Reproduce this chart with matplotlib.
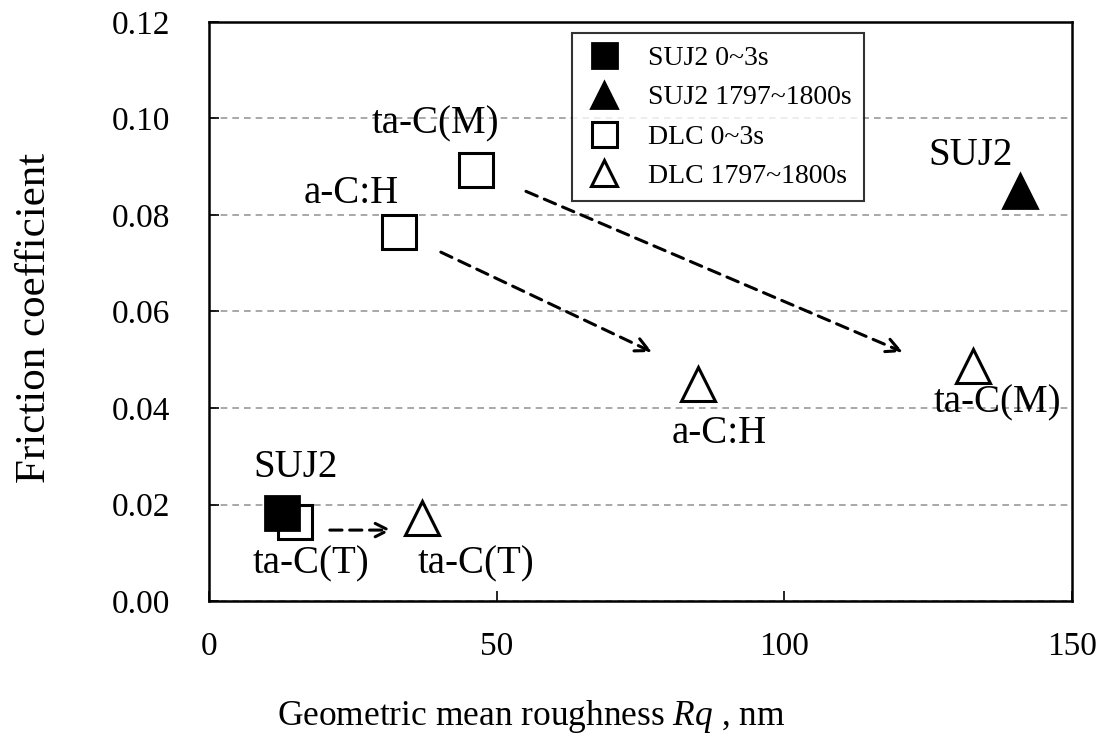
import matplotlib
matplotlib.use('Agg')
import matplotlib.pyplot as plt

plt.rcParams['font.family'] = ['Liberation Serif', 'DejaVu Serif']
plt.rcParams['mathtext.fontset'] = 'custom'
plt.rcParams['mathtext.it'] = 'Liberation Serif:italic'
plt.rcParams['mathtext.rm'] = 'Liberation Serif'

# SUJ2 and DLC, first 3 s and last 3 s
suj2_start_x = [12.7]
suj2_start_y = [0.0182]
suj2_end_x = [141.0]
suj2_end_y = [0.085]
dlc_start_x = [15.0, 33.0, 46.4]
dlc_start_y = [0.0164, 0.0765, 0.0893]
dlc_end_x = [37.0, 85.0, 132.8]
dlc_end_y = [0.0173, 0.045, 0.0487]

# arrows (start -> end)
arrow_from = [(21.0, 0.0147), (40.3, 0.0723), (55.1, 0.0849)]
arrow_to = [(31.8, 0.0147), (77.0, 0.0516), (120.6, 0.0516)]

# point labels
labels = ['SUJ2', 'ta-C(T)', 'ta-C(T)', 'a-C:H', 'ta-C(M)', 'a-C:H', 'ta-C(M)', 'SUJ2']
label_x = [15.1, 17.7, 46.4, 24.7, 39.3, 88.6, 137.0, 132.4]
label_y = [0.0257, 0.0058, 0.0058, 0.0825, 0.0970, 0.0328, 0.0390, 0.0904]

fig = plt.figure(figsize=(11, 7.42), dpi=100)
ax = fig.add_axes([0.19, 0.19, 0.7845, 0.7804])

ms = 24
ax.plot(suj2_start_x, suj2_start_y, 's', ms=ms, color='black', mec='black', mew=2,
        label='SUJ2 0~3s', zorder=4)
ax.plot(suj2_end_x, suj2_end_y, '^', ms=ms + 1, color='black', mec='black', mew=2,
        label='SUJ2 1797~1800s', zorder=4)
ax.plot(dlc_start_x, dlc_start_y, 's', ms=ms, mfc='none', mec='black', mew=2.2,
        label='DLC 0~3s', zorder=3)
ax.plot(dlc_end_x, dlc_end_y, '^', ms=ms + 1, mfc='none', mec='black', mew=2.2,
        label='DLC 1797~1800s', zorder=3)

for (x0, y0), (x1, y1) in zip(arrow_from, arrow_to):
    ax.annotate('', xy=(x1, y1), xytext=(x0, y0),
                arrowprops=dict(arrowstyle='->', linestyle=(0, (4, 2.5)), lw=2.2,
                                color='black', mutation_scale=24,
                                shrinkA=0, shrinkB=0))

for t, x, y in zip(labels, label_x, label_y):
    ax.text(x, y, t, fontsize=28, ha='center', va='baseline')

ax.set_xlim(0, 150)
ax.set_ylim(0, 0.12)
ax.set_xticks([0, 50, 100, 150])
ax.set_yticks([0, 0.02, 0.04, 0.06, 0.08, 0.10, 0.12])
ax.set_yticklabels(['0.00', '0.02', '0.04', '0.06', '0.08', '0.10', '0.12'])
ax.tick_params(direction='in', labelsize=24, length=7, width=1.2)
ax.tick_params(axis='y', pad=28)
ax.tick_params(axis='x', pad=22)
ax.yaxis.grid(True, linestyle=(0, (4, 3)), color='#999999', lw=1.2)
ax.set_axisbelow(True)
for s in ax.spines.values():
    s.set_linewidth(1.8)

ax.set_xlabel('Geometric mean roughness $\\mathit{Rq}$ , nm', fontsize=25.5)
ax.xaxis.label.set_va('baseline')
ax.xaxis.set_label_coords(0.373, -0.214)
ax.set_ylabel('Friction coefficient', fontsize=31)
ax.yaxis.label.set_va('baseline')
ax.yaxis.set_label_coords(-0.19, 0.489)

leg = ax.legend(loc='upper left', bbox_to_anchor=(0.4206, 0.981), borderaxespad=0,
                fontsize=20, markerscale=0.75, frameon=True, fancybox=False,
                edgecolor='black', handletextpad=0.9, borderpad=0.45,
                labelspacing=0.5, handlelength=1.4)
leg.get_frame().set_linewidth(1.5)

fig.savefig('out.png', dpi=100)
